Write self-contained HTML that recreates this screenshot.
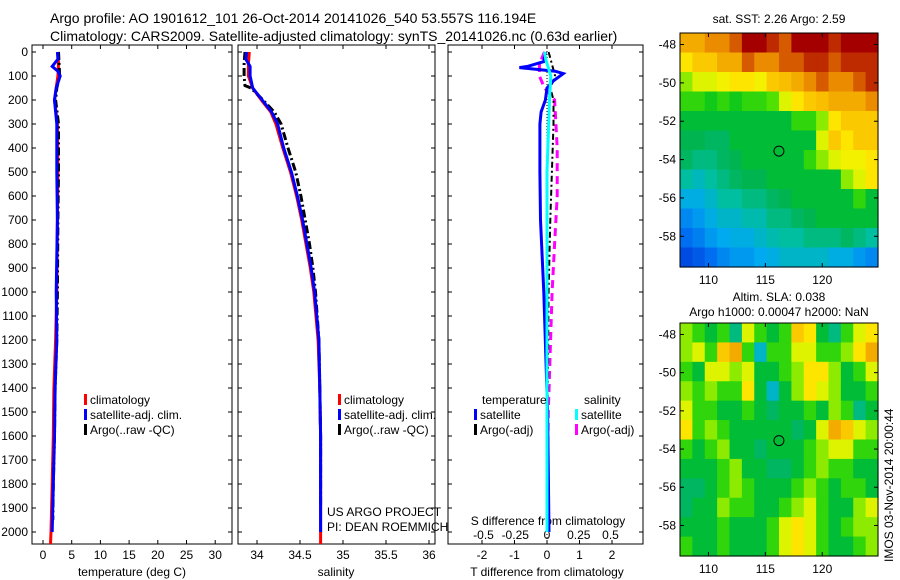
<!DOCTYPE html>
<html><head><meta charset="utf-8"><style>
body{margin:0;background:#fff;width:900px;height:580px;overflow:hidden}
svg{display:block;font-family:"Liberation Sans",sans-serif}
</style></head><body>
<svg id="fig" width="900" height="580" viewBox="0 0 900 580">
<text x="50" y="23" font-size="14">Argo profile: AO 1901612_101 26-Oct-2014 20141026_540 53.557S 116.194E</text>
<text x="50" y="41" font-size="14">Climatology: CARS2009. Satellite-adjusted climatology: synTS_20141026.nc (0.63d earlier)</text>
</svg>
<script>
// ---------- data ----------
const depthTicks=[0,100,200,300,400,500,600,700,800,900,1000,1100,1200,1300,1400,1500,1600,1700,1800,1900,2000];
const tTicks=[0,5,10,15,20,25,30];
const sTicks=[34,34.5,35,35.5,36];
const dTTicks=[-2,-1,0,1,2];
const dSTicks=[-0.5,-0.25,0,0.25,0.5];
const tClimDepth=[0,50,100,150,200,300,500,700,1000,1200,1400,1600,1800,2000,2050];
const tClimVal=[2.6,2.7,2.6,2.3,2.0,2.5,2.6,2.5,2.4,2.2,1.9,1.8,1.6,1.4,1.3];
const tSatDepth=[0,30,60,80,100,150,200,300,500,700,1000,1200,1400,1600,1800,2000];
const tSatVal=[2.5,2.6,1.6,2.6,3.0,2.3,2.0,2.4,2.4,2.5,2.3,2.4,2.1,2.0,1.8,1.6];
const tArgoDepth=[0,50,100,150,200,300,500,700,1000,1200,1400,1600,1800,1950];
const tArgoVal=[2.7,2.8,2.9,2.4,2.2,2.7,2.7,2.6,2.5,2.4,2.1,2.0,1.8,1.7];
const sClimDepth=[0,50,100,150,200,250,300,400,500,600,700,800,900,1000,1200,1400,1600,2050];
const sClimVal=[33.91,33.9,33.9,33.95,34.05,34.16,34.22,34.3,34.39,34.46,34.52,34.57,34.62,34.66,34.71,34.73,34.74,34.74];
const sSatDepth=[0,30,60,100,150,200,250,300,400,500,600,700,800,900,1000,1200,1400,1600,2000];
const sSatVal=[33.88,33.87,33.92,33.92,33.95,34.06,34.17,34.24,34.31,34.40,34.47,34.53,34.58,34.63,34.67,34.72,34.73,34.74,34.74];
const sArgoDepth=[0,50,100,140,150,200,250,300,400,500,600,700,800,900,1000,1200,1400,1600,1900];
const sArgoVal=[33.86,33.85,33.85,33.86,33.93,34.07,34.2,34.28,34.36,34.45,34.51,34.56,34.61,34.65,34.68,34.72,34.73,34.74,34.74];
const dTSatDepth=[0,40,60,65,70,80,90,120,150,200,250,300,500,700,1000,1500,2000];
const dTSatVal=[-0.05,-0.1,-0.6,-0.85,-0.5,0.25,0.5,0.2,0.0,-0.05,-0.18,-0.22,-0.22,-0.2,-0.1,0.02,0.06];
const dTArgoDepth=[0,50,100,150,200,300,500,700,1000,1500,1950];
const dTArgoVal=[0.05,0.15,0.25,0.1,0.2,0.2,0.15,0.1,0.05,0.02,0.02];
const dSSatDepth=[0,30,100,200,500,1000,1500,2000];
const dSSatVal=[-0.02,-0.01,0.03,0.02,0.0,0.0,0.0,0.0];
const dSArgoDepth=[0,50,100,150,200,300,400,600,800,1000,1500,1950];
const dSArgoVal=[-0.02,-0.06,-0.06,-0.02,0.06,0.07,0.08,0.08,0.06,0.04,0.01,0.0];
const sstGrid=[
[0.75,0.75,0.8,0.8,0.85,0.95,0.95,0.9,0.85,0.95,0.95,0.95,0.9,0.95,0.95,0.95],
[0.65,0.7,0.7,0.75,0.75,0.85,0.8,0.8,0.85,0.85,0.9,0.9,0.85,0.9,0.9,0.9],
[0.55,0.6,0.6,0.62,0.65,0.65,0.62,0.7,0.72,0.75,0.8,0.85,0.8,0.8,0.85,0.9],
[0.5,0.5,0.48,0.5,0.48,0.5,0.5,0.52,0.6,0.65,0.7,0.72,0.75,0.75,0.75,0.8],
[0.45,0.45,0.45,0.45,0.45,0.45,0.45,0.45,0.45,0.5,0.5,0.55,0.65,0.7,0.7,0.7],
[0.43,0.43,0.42,0.42,0.45,0.45,0.45,0.45,0.45,0.45,0.45,0.6,0.7,0.65,0.7,0.7],
[0.42,0.4,0.4,0.42,0.43,0.45,0.45,0.45,0.45,0.45,0.5,0.55,0.6,0.62,0.62,0.65],
[0.38,0.36,0.38,0.4,0.42,0.43,0.43,0.45,0.45,0.45,0.45,0.45,0.45,0.55,0.6,0.65],
[0.33,0.33,0.35,0.38,0.38,0.4,0.4,0.42,0.43,0.45,0.45,0.45,0.45,0.45,0.5,0.45],
[0.28,0.3,0.33,0.35,0.35,0.37,0.37,0.4,0.4,0.42,0.43,0.45,0.45,0.45,0.45,0.45],
[0.25,0.27,0.3,0.32,0.33,0.33,0.35,0.37,0.38,0.38,0.4,0.4,0.4,0.42,0.4,0.38],
[0.2,0.22,0.25,0.28,0.3,0.3,0.32,0.33,0.35,0.35,0.35,0.35,0.33,0.33,0.3,0.28]];
const slaGrid=[
[0.55,0.5,0.45,0.5,0.4,0.6,0.5,0.45,0.5,0.7,0.65,0.45,0.4,0.5,0.6,0.65],
[0.55,0.6,0.5,0.7,0.75,0.5,0.35,0.5,0.5,0.6,0.6,0.5,0.5,0.55,0.65,0.75],
[0.5,0.45,0.6,0.6,0.55,0.6,0.45,0.45,0.5,0.55,0.65,0.65,0.55,0.45,0.5,0.6],
[0.55,0.5,0.55,0.5,0.5,0.65,0.45,0.35,0.45,0.55,0.65,0.6,0.55,0.45,0.45,0.5],
[0.6,0.5,0.5,0.45,0.45,0.5,0.45,0.42,0.45,0.45,0.5,0.45,0.55,0.5,0.4,0.45],
[0.65,0.5,0.55,0.5,0.45,0.45,0.45,0.45,0.45,0.42,0.45,0.6,0.75,0.7,0.6,0.55],
[0.5,0.45,0.5,0.55,0.45,0.45,0.42,0.45,0.45,0.45,0.5,0.55,0.6,0.6,0.5,0.5],
[0.45,0.45,0.45,0.5,0.55,0.45,0.45,0.42,0.42,0.45,0.5,0.55,0.5,0.5,0.45,0.45],
[0.42,0.42,0.45,0.5,0.55,0.5,0.45,0.45,0.45,0.5,0.55,0.5,0.45,0.5,0.5,0.45],
[0.42,0.45,0.45,0.55,0.5,0.5,0.45,0.45,0.5,0.55,0.6,0.5,0.45,0.45,0.55,0.6],
[0.45,0.45,0.45,0.5,0.45,0.45,0.45,0.5,0.6,0.65,0.6,0.5,0.45,0.5,0.55,0.55],
[0.5,0.45,0.45,0.5,0.45,0.45,0.45,0.5,0.6,0.65,0.6,0.5,0.45,0.45,0.5,0.55]];
const lonTicks=[110,115,120];
const latTicks=[-48,-50,-52,-54,-56,-58];
const argoLon=116.194, argoLat=-53.557;

// ---------- helpers ----------
const svg=document.getElementById('fig');
const NS='http://www.w3.org/2000/svg';
function mk(tag,attrs,parent){const e=document.createElementNS(NS,tag);for(const k in attrs)e.setAttribute(k,attrs[k]);(parent||svg).appendChild(e);return e;}
function txt(x,y,s,size,anchor,parent){const t=mk('text',{x:x,y:y,'font-size':size||12,'text-anchor':anchor||'start'},parent);t.textContent=s;return t;}
const yTop=45,yBot=544;
const yD=d=>52+d*0.24;
const xT=v=>43+v*5.74;
const xS=v=>257+(v-34)*86;
const xDT=v=>547+v*32.5;
const xDS=v=>547+v*127;
function line(xs,ys,fx,color,w,dash,name){
  const p=xs.map((v,i)=>fx(v).toFixed(1)+','+yD(ys[i]).toFixed(1)).join(' ');
  const e=mk('polyline',{points:p,fill:'none',stroke:color,'stroke-width':w});
  if(dash)e.setAttribute('stroke-dasharray',dash);
  
  
}
function panel(x0,x1,name){
  const g=mk('g',{});
  
  
  mk('rect',{x:x0,y:yTop,width:x1-x0,height:yBot-yTop,fill:'none',stroke:'#000','stroke-width':1},g);
  depthTicks.forEach(d=>{mk('line',{x1:x0,x2:x0+4,y1:yD(d),y2:yD(d),stroke:'#000'},g);mk('line',{x1:x1-4,x2:x1,y1:yD(d),y2:yD(d),stroke:'#000'},g);});
  return g;
}
function xticks(g,ticks,fx,labels){ticks.forEach((t,i)=>{const x=fx(t);mk('line',{x1:x,x2:x,y1:yBot,y2:yBot-4,stroke:'#000'},g);mk('line',{x1:x,x2:x,y1:yTop,y2:yTop+4,stroke:'#000'},g);txt(x,559,labels?labels[i]:String(t),12,'middle',g);});}

// panel 1
const g1=panel(32,232,'temperature-panel');
depthTicks.forEach(d=>{txt(28,yD(d)+4,String(d),12,'end',g1);});
xticks(g1,tTicks,xT);
txt(132,576,'temperature (deg C)',12,'middle',g1);
line(tClimVal,tClimDepth,xT,'#f00',3,null,'temperature-climatology-line');
line(tArgoVal,tArgoDepth,xT,'#000',3,'8,3,2,3','temperature-argo-line');
line(tSatVal,tSatDepth,xT,'#00f',3,null,'temperature-satellite-line');
// panel 2
const g2=panel(238,435,'salinity-panel');
xticks(g2,sTicks,xS,['34','34.5','35','35.5','36']);
txt(336,576,'salinity',12,'middle',g2);
line(sClimVal,sClimDepth,xS,'#f00',3,null,'salinity-climatology-line');
line(sArgoVal,sArgoDepth,xS,'#000',3,'8,3,2,3','salinity-argo-line');
line(sSatVal,sSatDepth,xS,'#00f',3,null,'salinity-satellite-line');
txt(327,516,'US ARGO PROJECT',12,'start',g2);
txt(327,531,'PI: DEAN ROEMMICH',12,'start',g2);
// panel 3
const g3=panel(448,643,'difference-panel');
xticks(g3,dTTicks,xDT);
txt(547,576,'T difference from climatology',12,'middle',g3);
dSTicks.forEach(t=>{txt(xDS(t),539,String(t),12,'middle',g3);});
txt(548,525,'S difference from climatology',12,'middle',g3);
mk('line',{x1:xDT(0),x2:xDT(0),y1:yTop,y2:yBot,stroke:'#000','stroke-dasharray':'1,2'},g3);
line(dSArgoVal,dSArgoDepth,xDS,'#f0f',3,'8,5','salinity-diff-argo-line');
line(dTArgoVal,dTArgoDepth,xDT,'#000',2,'6,3,2,3','temperature-diff-argo-line');
line(dTSatVal,dTSatDepth,xDT,'#00f',3,null,'temperature-diff-satellite-line');
line(dSSatVal,dSSatDepth,xDS,'#0ff',3,null,'salinity-diff-satellite-line');

// legends
function legend(x,y,items,name){
  const g=mk('g',{});
  
  
  items.forEach((it,i)=>{const yy=y+i*15;mk('rect',{x:x,y:yy-10,width:3,height:11,fill:it[1]},g);txt(x+6,yy,it[0],12,'start',g);});
}
legend(84,404,[['climatology','#f00'],['satellite-adj. clim.','#00f'],['Argo(..raw -QC)','#000']],'temperature-legend');
legend(338,404,[['climatology','#f00'],['satellite-adj. clim.','#00f'],['Argo(..raw -QC)','#000']],'salinity-legend');
txt(482,404,'temperature',12,'start');
txt(584,404,'salinity',12,'start');
legend(474,419,[['satellite','#00f'],['Argo(-adj)','#000']],'temperature-diff-legend');
legend(575,419,[['satellite','#0ff'],['Argo(-adj)','#f0f']],'salinity-diff-legend');

// maps
const cmapStops=[[0.15,[0,40,210]],[0.25,[0,110,240]],[0.32,[0,170,240]],[0.38,[0,190,160]],[0.43,[0,180,80]],[0.47,[0,195,30]],[0.52,[80,225,0]],[0.58,[200,245,0]],[0.63,[255,240,0]],[0.72,[250,190,0]],[0.8,[235,140,0]],[0.88,[200,60,0]],[0.95,[165,0,0]]];
function cmap(v){
  if(v<=cmapStops[0][0])return 'rgb('+cmapStops[0][1].join(',')+')';
  for(let i=1;i<cmapStops.length;i++){
    if(v<=cmapStops[i][0]){const a=cmapStops[i-1],b=cmapStops[i],f=(v-a[0])/(b[0]-a[0]);
      return 'rgb('+a[1].map((c,k)=>Math.round(c+(b[1][k]-c)*f)).join(',')+')';}
  }
  return 'rgb('+cmapStops[cmapStops.length-1][1].join(',')+')';
}
function map(y0,y1,grid,name,t1,t2){
  const x0=680,x1=878,lonMin=107.5,lonMax=124.9,latTop=-47.4,latBot=-59.6;
  const fx=lon=>x0+(lon-lonMin)/(lonMax-lonMin)*(x1-x0);
  const fy=lat=>y0+(latTop-lat)/(latTop-latBot)*(y1-y0);
  const g=mk('g',{});
  
  
  const rows=grid.length,cols=grid[0].length,cw=(x1-x0)/cols,ch=(y1-y0)/rows;
  grid.forEach((row,r)=>row.forEach((v,c)=>{mk('rect',{x:(x0+c*cw).toFixed(2),y:(y0+r*ch).toFixed(2),width:(cw+0.6).toFixed(2),height:(ch+0.6).toFixed(2),fill:cmap(v)},g);}));
  mk('rect',{x:x0,y:y0,width:x1-x0,height:y1-y0,fill:'none',stroke:'#000'},g);
  lonTicks.forEach(l=>{const x=fx(l);mk('line',{x1:x,x2:x,y1:y1,y2:y1-4,stroke:'#000'},g);mk('line',{x1:x,x2:x,y1:y0,y2:y0+4,stroke:'#000'},g);txt(x,y1+17,String(l),12,'middle',g);});
  latTicks.forEach(l=>{const y=fy(l);mk('line',{x1:x0,x2:x0+4,y1:y,y2:y,stroke:'#000'},g);mk('line',{x1:x1-4,x2:x1,y1:y,y2:y,stroke:'#000'},g);txt(x0-4,y+4,String(l),12,'end',g);});
  const c=mk('circle',{cx:fx(argoLon),cy:fy(argoLat),r:5,fill:'none',stroke:'#000'},g);
  
  
  if(t1)txt(779,t2?y0-22:y0-10,t1,12,'middle',g);
  if(t2)txt(779,y0-7,t2,12,'middle',g);
}
map(33,267,sstGrid,'sst-map','sat. SST: 2.26 Argo: 2.59');
map(323,556,slaGrid,'sla-map','Altim. SLA: 0.038','Argo h1000: 0.00047 h2000: NaN');
const v=txt(0,0,'IMOS 03-Nov-2014 20:00:44',12,'start');
v.setAttribute('transform','translate(893,562) rotate(-90)');


</script>
</body></html>
